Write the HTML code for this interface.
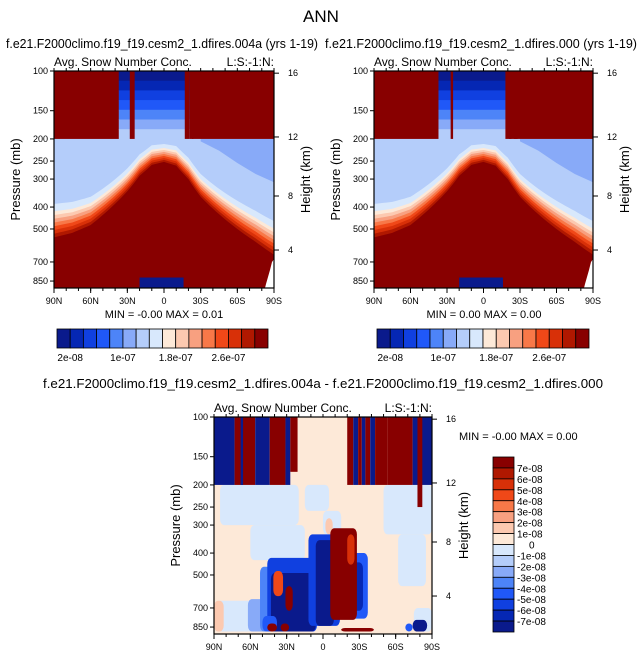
<!DOCTYPE html>
<html><head><meta charset="utf-8"><style>
html,body{margin:0;padding:0;background:#fff;}
svg{display:block;font-family:"Liberation Sans",Arial,sans-serif;}
</style></head><body>
<svg id="chart" width="643" height="658" viewBox="0 0 643 658" xmlns="http://www.w3.org/2000/svg">
<text x="321" y="22" font-size="17" text-anchor="middle">ANN</text>
<text x="6" y="48" font-size="13" textLength="312" lengthAdjust="spacingAndGlyphs">f.e21.F2000climo.f19_f19.cesm2_1.dfires.004a (yrs 1-19)</text>
<text x="325" y="48" font-size="13" textLength="312" lengthAdjust="spacingAndGlyphs">f.e21.F2000climo.f19_f19.cesm2_1.dfires.000 (yrs 1-19)</text>
<text x="323" y="388" font-size="13" text-anchor="middle" textLength="560" lengthAdjust="spacingAndGlyphs">f.e21.F2000climo.f19_f19.cesm2_1.dfires.004a - f.e21.F2000climo.f19_f19.cesm2_1.dfires.000</text>
<g id="layer"></g>
</svg>
<script>
// ---- data ----
const absColors = ["#0a1a8c","#0527b4","#1040e0","#2058f8","#4d84f8","#88aaf8","#b4cdfa","#d8e8fc","#fde9d8","#fcc9b0","#f8a080","#f87848","#f04818","#d83008","#b01800","#880000"];
const absTickLabels = ["2e-08","1e-07","1.8e-07","2.6e-07"];
const absTickIdx = [1,5,9,13];
const diffLabels = ["7e-08","6e-08","5e-08","4e-08","3e-08","2e-08","1e-08","0","-1e-08","-2e-08","-3e-08","-4e-08","-5e-08","-6e-08","-7e-08"];
const pTicks = [100,150,200,250,300,400,500,700,850];
const pFrac = [0,0.183,0.313,0.415,0.498,0.627,0.728,0.880,0.968];
const hTicks = [16,12,8,4];
const hFrac = [0.01,0.304,0.576,0.825];
const latTicks = [90,60,30,0,-30,-60,-90];
const latNames = ["90N","60N","30N","0","30S","60S","90S"];
const boundLat = [90,75,60,45,30,20,10,0,-10,-20,-30,-45,-60,-75,-90];
const boundP = [545,520,480,410,340,290,260,252,262,300,360,430,500,570,650];
const midLat = [-30,-45,-60,-75,-90];
const midP = [205,225,255,285,310];
const colLat1 = [37,37];
const colLat2 = [-21,-21];
const redStripes1 = [[28,24],[-17,-21],[-23,-24]];
const redStripes2 = [[27,25],[-18,-23],[-25,-28]];
const diffStripes = [[90,73,0,200],[73,56,15,200],[68,66,0,200],[56,44,0,200],[44,31,15,200],[31,27,0,200],[27,21,15,175],[-20,-25,15,200],[-25,-29,0,200],[-29,-32,15,200],[-32,-35,0,200],[-35,-39,15,200],[-39,-43,0,200],[-43,-53,15,200],[-53,-74,15,200],[-74,-90,0,200],[-78,-82,15,250]];
const diffBlobs = [
 [85,20,200,300,7],[60,15,300,430,7],[-50,-90,200,330,7],[-62,-85,330,560,7],[15,-5,200,260,7],[90,50,650,900,7],[0,-15,260,330,7],[-75,-90,700,900,7],
 [90,82,650,900,9],[45,36,440,620,10],[-2,-8,280,330,9],
 [62,22,640,900,5],[52,8,460,900,4],[46,5,420,900,2],[43,6,490,900,0],[50,38,760,900,3],
 [12,-14,330,840,2],[6,-9,350,840,0],
 [-22,-37,400,780,3],[-24,-33,440,720,1],
 [-6,-28,310,790,15],[-20,-26,330,450,13],
 [41,33,480,620,12],[31,25,560,720,15],[46,38,820,900,15],[35,28,820,900,15],[-15,-42,860,900,15],
 [-74,-86,790,900,0],[-68,-74,820,900,3]];
// ---- helpers ----
const NS="http://www.w3.org/2000/svg";
const layer=document.getElementById('layer');
function mk(tag,attrs,parent){const e=document.createElementNS(NS,tag);for(const k in attrs)e.setAttribute(k,attrs[k]);(parent||layer).appendChild(e);return e;}
function pToF(p){
  const P=pTicks.concat([930]),F=pFrac.concat([1]);
  if(p<=P[0])return 0; for(let i=0;i<P.length-1;i++){if(p<=P[i+1]){const t=(Math.log(p)-Math.log(P[i]))/(Math.log(P[i+1])-Math.log(P[i]));return F[i]+t*(F[i+1]-F[i]);}} return 1;}
function interp(L,V,lat){for(let i=0;i<L.length-1;i++){if(lat<=L[i]&&lat>=L[i+1]){const t=(L[i]-lat)/(L[i]-L[i+1]);return V[i]+t*(V[i+1]-V[i]);}}return lat>L[0]?V[0]:V[V.length-1];}

function panel(ox,oy,w,h,kind,name){
  const g=mk('g',{});
  
  
  const X=lat=>ox+(90-lat)/180*w, Y=p=>oy+pToF(p)*h;
  const clip=mk('clipPath',{id:'c'+name},g); mk('rect',{x:ox,y:oy,width:w,height:h},clip);
  const pg=mk('g',{'clip-path':'url(#c'+name+')'},g);
  if(kind!=='diff'){
    const strip=kind==='a'?redStripes1:redStripes2;
    mk('rect',{x:ox,y:oy,width:w,height:h,fill:absColors[6]},pg);
    let d='M'+X(midLat[0])+','+Y(200);
    midLat.forEach((l,i)=>{d+=' L'+X(l)+','+Y(midP[i]);});
    d+=' L'+X(-90)+','+Y(200)+'Z'; const mb=mk('path',{d:d,fill:absColors[5]},pg);
    
    const lats=[];for(let l=90;l>=-90;l-=2.5)lats.push(l);
    const offs=[0,1,2,3,4,5,6,7,9,13];
    for(let k=offs.length-1;k>=0;k--){
      const ci=15-k; let pts=[];
      lats.forEach(l=>{const pb=interp(boundLat,boundP,l);const dd=0.02+0.018*Math.abs(l)/90;pts.push(X(l)+','+Y(pb*Math.exp(-offs[k]*dd)));});
      const path='M'+X(90)+','+(oy+h)+' L'+pts.join(' L')+' L'+X(-90)+','+(oy+h)+'Z';
      const e=mk('path',{d:path,fill:absColors[ci]},pg);
      
    }
    const up=mk('rect',{x:ox,y:oy,width:w,height:Y(200)-oy,fill:absColors[15]},pg);
    
    for(let k=0;k<7;k++){
      const p1=100*Math.pow(2,k/7),p2=100*Math.pow(2,(k+1)/7);
      const b=mk('rect',{x:X(colLat1[0]),y:Y(p1),width:X(colLat2[0])-X(colLat1[0]),height:Y(p2)-Y(p1)+0.5,fill:absColors[k]},pg);
      
    }
    strip.forEach(s=>{const r=mk('rect',{x:X(s[0]),y:oy,width:X(s[1])-X(s[0]),height:Y(200)-oy,fill:absColors[15]},pg);
      });
    const nb=mk('rect',{x:X(20),y:Y(820),width:X(-16)-X(20),height:oy+h-Y(820),fill:absColors[0]},pg);
    
    const wc=mk('path',{d:'M'+(ox+w)+','+(Y(680))+' L'+(ox+w-2)+','+Y(700)+' L'+(ox+w-4)+','+Y(760)+' L'+(ox+w-8)+','+(oy+h-4)+' L'+(ox+w-9)+','+(oy+h)+' L'+(ox+w)+','+(oy+h)+'Z',fill:'#fff'},pg);
    
  } else {
    mk('rect',{x:ox,y:oy,width:w,height:h,fill:absColors[8]},pg);
    diffBlobs.forEach(b=>{const e=mk('rect',{x:X(b[0]),y:Y(b[2]),width:X(b[1])-X(b[0]),height:Y(b[3])-Y(b[2]),rx:4,ry:6,fill:absColors[b[4]]},pg);
      });
    diffStripes.forEach(s=>{const e=mk('rect',{x:X(s[0]),y:oy,width:X(s[1])-X(s[0]),height:Y(s[3])-oy,fill:absColors[s[2]]},pg);
      });
  }
  mk('rect',{x:ox,y:oy,width:w,height:h,fill:'none',stroke:'#000','stroke-width':1.2},g);
  pTicks.forEach((p,i)=>{const y=oy+pFrac[i]*h;mk('line',{x1:ox-4,x2:ox,y1:y,y2:y,stroke:'#000'},g);
    const t=mk('text',{x:ox-6,y:y+3,'font-size':9,'text-anchor':'end'},g);t.textContent=p;
    });
  hTicks.forEach((v,i)=>{const y=oy+hFrac[i]*h;mk('line',{x1:ox+w,x2:ox+w+5,y1:y,y2:y,stroke:'#000'},g);
    const t=mk('text',{x:ox+w+14,y:y+3,'font-size':9},g);t.textContent=v;
    });
  for(let l=90;l>=-90;l-=10){mk('line',{x1:X(l),x2:X(l),y1:oy,y2:oy-3,stroke:'#000'},g);mk('line',{x1:X(l),x2:X(l),y1:oy+h,y2:oy+h+3,stroke:'#000'},g);}
  latTicks.forEach((l,i)=>{mk('line',{x1:X(l),x2:X(l),y1:oy+h,y2:oy+h+5,stroke:'#000'},g);
    const t=mk('text',{x:X(l),y:oy+h+16,'font-size':9,'text-anchor':'middle'},g);t.textContent=latNames[i];
    });
  const yl=mk('text',{x:0,y:0,'font-size':13,'text-anchor':'middle',transform:'translate('+(ox-34)+','+(oy+h/2)+') rotate(-90)'},g);yl.textContent='Pressure (mb)';
  
  const hl=mk('text',{x:0,y:0,'font-size':13,'text-anchor':'middle',transform:'translate('+(ox+w+36)+','+(oy+h/2)+') rotate(-90)'},g);hl.textContent='Height (km)';
  
  const lt=mk('text',{x:ox,y:oy-5,'font-size':12},g);lt.textContent='Avg. Snow Number Conc.';
  
  const rt=mk('text',{x:ox+w,y:oy-5,'font-size':12,'text-anchor':'end'},g);rt.textContent='L:S:-1:N:';
  
  return g;
}
panel(54,71,220,217,'a','panel-004a');
panel(374,71,219,217,'b','panel-000');
panel(214,417,218,217,'diff','panel-difference');

function stat(x,y,txt,anchor){const t=mk('text',{x:x,y:y,'font-size':11,'text-anchor':anchor||'middle'});t.textContent=txt;
  }
stat(164,318,'MIN =  -0.00  MAX =   0.01');
stat(484,318,'MIN =   0.00  MAX =   0.00');
stat(459,440,'MIN =  -0.00  MAX =   0.00','start');

function hbar(x0,x1,y0,hh,name){
  const g=mk('g',{});
  const bw=(x1-x0)/absColors.length;
  absColors.forEach((c,i)=>{const r=mk('rect',{x:x0+i*bw,y:y0,width:bw,height:hh,fill:c,stroke:'#000','stroke-width':0.8},g);
    });
  absTickLabels.forEach((s,i)=>{const t=mk('text',{x:x0+absTickIdx[i]*bw,y:y0+hh+13,'font-size':10,'text-anchor':'middle'},g);t.textContent=s;
    });
}
hbar(57,268,329,19,'colorbar-004a');
hbar(377,589,329,19,'colorbar-000');
(function(){
  const g=mk('g',{});
  const x0=493,w=21,y0=457,y1=632,bh=(y1-y0)/16;
  for(let i=0;i<16;i++){const r=mk('rect',{x:x0,y:y0+i*bh,width:w,height:bh,fill:absColors[15-i],stroke:'#000','stroke-width':0.8},g);
    }
  diffLabels.forEach((s,i)=>{const t=mk('text',{x:s==='0'?x0+w+15:x0+w+3,y:y0+(i+1)*bh+4,'font-size':10},g);t.textContent=s;
    });
})();
</script>
</body></html>
